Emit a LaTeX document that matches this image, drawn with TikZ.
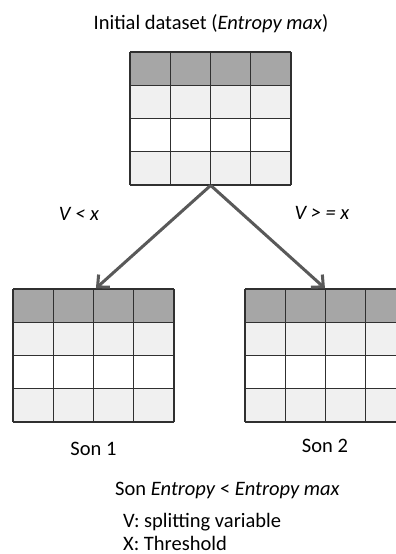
\documentclass[tikz,border=0pt]{standalone}
\usepackage{fontspec}
\setmainfont{Carlito}
\usetikzlibrary{arrows.meta}
\definecolor{hdr}{HTML}{A6A6A6}
\definecolor{lite}{HTML}{F0F0F0}
\definecolor{gridc}{HTML}{303030}
\definecolor{arrc}{HTML}{595959}
\tikzset{
  tabbox/.style={inner sep=0pt, minimum width=161pt, minimum height=133pt, draw=none, anchor=north west},
  gridline/.style={draw=gridc, line width=1.3pt},
  branch/.style={draw=arrc, line width=3pt, -{Straight Barb[length=9pt,width=17pt,line width=3pt]}, shorten >=1pt},
  txt/.style={inner sep=0pt, font=\fontsize{20.5}{23}\selectfont},
}
\newcommand{\datatable}[3]{%
  \node[tabbox] (#1) at (#2,#3) {};
  \begin{scope}[shift={(#2,#3)}]
    \fill[hdr] (0,0) rectangle (161,33.25);
    \fill[lite] (0,33.25) rectangle (161,66.5);
    \fill[white] (0,66.5) rectangle (161,99.75);
    \fill[lite] (0,99.75) rectangle (161,133);
    \foreach \i in {0,1,2,3,4} {
      \draw[gridline] (40.25*\i,0) -- (40.25*\i,133);
      \draw[gridline] (0,33.25*\i) -- (161,33.25*\i);
    }
  \end{scope}
}
\begin{document}
\begin{tikzpicture}[x=1pt,y=-1pt]
\clip (0,0) rectangle (396,554);
\useasboundingbox (0,0) rectangle (396,554);
\fill[white] (0,0) rectangle (396,554);
\datatable{top}{130}{52}
\datatable{sonA}{13}{289}
\datatable{sonB}{245}{289}
\draw[branch] (top.south) -- ([xshift=1.5pt]sonA.north);
\draw[branch] (top.south) -- (sonB.north);
\node[txt, anchor=base] (title) at (211,29) {Initial dataset (\textit{Entropy max})};
\node[txt, anchor=base] (lblL) at (79,220) {\textit{V < x}};
\node[txt, anchor=base] (lblR) at (322,219) {\textit{V > = x}};
\node[txt, anchor=base] (son1) at (93.5,455) {Son 1};
\node[txt, anchor=base] (son2) at (325,452) {Son 2};
\node[txt, anchor=base west] (cmp) at (115,495) {Son \textit{Entropy} < \textit{Entropy max}};
\node[txt, anchor=base west] (legV) at (123,527) {V: splitting variable};
\node[txt, anchor=base west] (legX) at (123,550) {X: Threshold};
\end{tikzpicture}
\end{document}
